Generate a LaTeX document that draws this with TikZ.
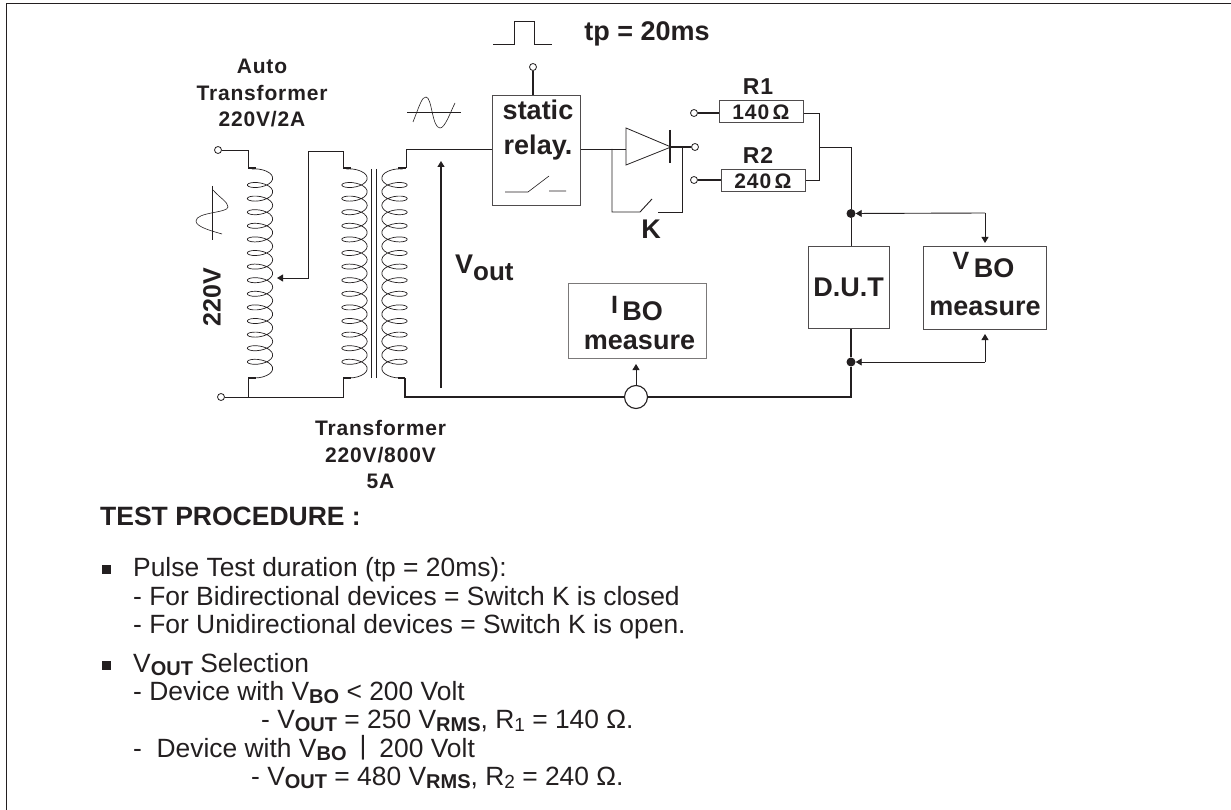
\documentclass[tikz,border=0pt]{standalone}
\usepackage{fontspec}
\setmainfont{Liberation Sans}
\usetikzlibrary{arrows.meta}
\definecolor{ink}{HTML}{231F20}
\newfontface\lbl{Liberation Sans Bold}[LetterSpace=4]
\tikzset{
  x=1pt,y=-1pt,
  wire/.style={draw=ink,line width=0.9pt},
  thick wire/.style={draw=ink,line width=1.4pt},
  coil/.style={draw=ink,line width=0.7pt},
  box/.style={draw=ink!80,line width=1pt,fill=white,inner sep=0pt,minimum width=0pt},
  term/.style={circle,draw=ink,line width=0.8pt,fill=white,minimum size=7pt,inner sep=0pt},
  dot/.style={circle,fill=ink,minimum size=9pt,inner sep=0pt},
  tip/.style={-{Triangle[length=6pt,width=7pt]}},
  big text/.style={font=\fontsize{27}{29}\selectfont\bfseries,text=ink,inner sep=0pt},
  small bold/.style={font=\fontsize{21}{26.5}\lbl,text=ink,inner sep=0pt,align=center},
  body/.style={font=\fontsize{26.4}{28}\selectfont,text=ink,inner sep=0pt,anchor=base west},
  bullet/.style={fill=ink,minimum size=9pt,inner sep=0pt},
}
\newcommand{\lsub}[1]{\raisebox{-3.3pt}{\fontsize{20}{20}\selectfont\bfseries #1}}
\newcommand{\nsub}[1]{\raisebox{-3.3pt}{\fontsize{19}{19}\selectfont #1}}
\newcommand{\coilR}[2]{% centre x, y of first bulge: ovals on the left
  \draw[coil,smooth] plot[domain=-130:5170,samples=300,variable=\t]
   ({#1+12.7*cos(\t)},{#2+0.03778*\t+5.5*sin(\t)});}
\newcommand{\coilL}[2]{% ovals on the right
  \draw[coil,smooth] plot[domain=-130:5170,samples=300,variable=\t]
   ({#1-12.7*cos(\t)},{#2+0.03778*\t+5.5*sin(\t)});}
\begin{document}
\begin{tikzpicture}
\useasboundingbox (0,0) rectangle (1231,810);
\draw[ink,line width=1pt] (6,810) -- (6,4) -- (1231,4);

% coils
\coilR{260}{178.2}
\coilR{354.5}{178.2}
\coilL{394.5}{178.2}
\draw[ink,line width=0.8pt] (371,169) -- (371,378) (376,169) -- (376,378);

% terminals
\node[term] (tA) at (218,150) {};
\node[term] (tB) at (221,397) {};
\coordinate (a1) at (248,168);
\coordinate (a2) at (248,378);
\coordinate (p1) at (343,168);
\coordinate (p2) at (343,378);
\coordinate (s1) at (406,168);
\coordinate (s2) at (405,378);
\coordinate (wiper) at (277,278);

% coil stubs
\draw[thick wire] (a1) -- (256,168) (a2) -- (256,378) (p1) -- (351,168) (p2) -- (351,378)
   (s1) -- (398,168) (s2) -- (398,378);

% boxes
\node[box,minimum width=88pt,minimum height=110pt] (relay) at (536,151) {};
\node[box,minimum width=84pt,minimum height=22pt] (r1) at (761,112) {};
\node[box,minimum width=84pt,minimum height=22pt] (r2) at (763,181) {};
\node[box,minimum width=81pt,minimum height=81pt] (dut) at (848.5,287.5) {};
\node[box,minimum width=123pt,minimum height=82pt] (vbo) at (984.5,288) {};
\node[box,draw=ink!60,minimum width=138pt,minimum height=74pt] (ibo) at (637,321) {};
\node[circle,draw=ink,line width=1.1pt,fill=white,minimum size=23pt,inner sep=0pt] (sense) at (636,397) {};
\node[term] (tC) at (533,67) {};
\node[term] (tD) at (694,113) {};
\node[term] (tE) at (695,147) {};
\node[term] (tF) at (694,180) {};
\node[dot] (d1) at (851,213.5) {};
\node[dot] (d2) at (851,362) {};

% wires
\draw[wire] (tA) -- (248,150) -- (a1);
\draw[wire] (tB) -- (343,397) -- (p2);
\draw[wire] (a2) -- (248,397);
\draw[wire,tip] (p1) -- (343,151) -- (308,151) -- (308,278) -- (wiper);
\draw[wire] (s1) -- (406,149) -- (relay.west |- 0,149);
\draw[thick wire] (s2) -- (405,397) -- (sense);
\draw[thick wire] (sense) -- (851,397) -- (d2) -- (dut.south -| d2);
\draw[wire,line width=1.2pt,tip] (441,388) -- (441,161);
\draw[wire,line width=1.1pt] (tC) -- (relay.north -| tC);

% relay switch
\draw[ink,line width=0.6pt] (505,192) -- (528,192) -- (549,176) (549,191) -- (566,191);

% diode branch
\coordinate (da) at (626,149);
\coordinate (dk) at (670,147);
\draw[wire] (relay.east |- da) -- (da);
\draw[ink,line width=0.8pt,fill=white] (626,128) -- (671,147) -- (626,165) -- cycle;
\draw[ink,line width=1.5pt] (670,130) -- (670,163);
\draw[thick wire] (dk) -- (tE);
\draw[wire] (612,149) -- (612,212) -- (640,212) -- (652,199);
\draw[wire] (658,212) -- (682,212) -- (682,147);

% resistors
\draw[thick wire] (tD) -- (r1.west |- tD);
\draw[thick wire] (tF) -- (r2.west |- tF);
\draw[wire] (r1.east |- 0,113) -- (819,113) -- (819,180) -- (r2.east |- 0,180);
\draw[wire] (819,147) -- (851,147) -- (d1) -- (dut.north -| d1);

% measures
\draw[wire,tip] (985,213) -- (d1);
\draw[wire,tip] (985,213) -- (985,243);
\draw[wire,tip] (985,362) -- (d2);
\draw[wire,tip] (985,362) -- (985,334);
\draw[wire,tip] (sense) -- (636,364);

% waveforms
\draw[ink,line width=0.6pt] (493,44) -- (514,44) -- (514,21) -- (534,21) -- (534,44) -- (552,44);
\draw[ink,line width=0.9pt] (407,112) -- (461,112);
\draw[ink,line width=0.6pt] (413,122) .. controls (420,104) and (422,97) .. (426,97)
   .. controls (432,97) and (432,128) .. (440,128) .. controls (445,128) and (450,113) .. (455,103);
\draw[ink,line width=1pt] (212,186) -- (212,240);
\draw[ink,line width=0.6pt] (213,190) .. controls (220,198) and (228,202) .. (228,207)
   .. controls (228,213) and (196,212) .. (196,221) .. controls (196,227) and (212,231) .. (222,234);

% labels
\node[big text] (t0) at (647,34) {tp = 20ms};
\node[small bold] (t1) at (262,93) {Auto\\Transformer\\220V/2A};
\node[big text,rotate=90,font=\fontsize{25}{26}\selectfont\bfseries] (t2) at (212,297) {220V};
\node[small bold] (t3) at (380.5,454.5) {Transformer\\220V/800V\\5A};
\node[big text,anchor=base west] (t4) at (455,273) {V\raisebox{-7pt}{\fontsize{26}{26}\selectfont\bfseries out}};
\node[big text,anchor=base] (t5) at (538,120) {static};
\node[big text,anchor=base] (t6) at (538,155) {relay.};
\node[big text] (t7) at (651,229) {K};
\node[small bold,font=\fontsize{23}{24}\lbl] (t8) at (758,87) {R1};
\node[small bold,font=\fontsize{23}{24}\lbl] (t9) at (758,155) {R2};
\node[small bold] at (r1) {140\,Ω};
\node[small bold] at (r2) {240\,Ω};
\node[big text] (t10) at (848.5,287) {D.U.T};
\node[big text,anchor=base] (t11) at (983.5,277) {\raisebox{7pt}{\fontsize{25}{25}\selectfont V}\,BO};
\node[big text,anchor=base] (t12) at (985,315) {measure};
\node[big text,anchor=base] (t13) at (637,320) {\raisebox{7pt}{\fontsize{25}{25}\selectfont I}\,BO};
\node[big text,anchor=base] (t14) at (639.5,349) {measure};

% procedure
\node[body,font=\fontsize{26.5}{28}\selectfont\bfseries] (h) at (100,525) {TEST PROCEDURE :};
\node[bullet] (b1) at (106.5,569.5) {};
\node[bullet] (b2) at (106.5,665) {};
\node[body] (l1) at (133,576) {Pulse Test duration (tp = 20ms):};
\node[body] (l2) at (133,605) {- For Bidirectional devices = Switch K is closed};
\node[body] (l3) at (133,633) {- For Unidirectional devices = Switch K is open.};
\node[body] (l4) at (133,672) {V\lsub{OUT} Selection};
\node[body] (l5) at (133,700) {- Device with V\lsub{BO} < 200 Volt};
\node[body] (l6) at (261,728) {- V\lsub{OUT} = 250 V\lsub{RMS}, R\nsub{1} = 140 Ω.};
\node[body] (l7) at (133,757) {-\ \ Device with V\lsub{BO}\hspace*{13pt}\raisebox{3pt}{|}\hspace*{13pt}200 Volt};
\node[body] (l8) at (251,785) {- V\lsub{OUT} = 480 V\lsub{RMS}, R\nsub{2} = 240 Ω.};
\end{tikzpicture}
\end{document}
